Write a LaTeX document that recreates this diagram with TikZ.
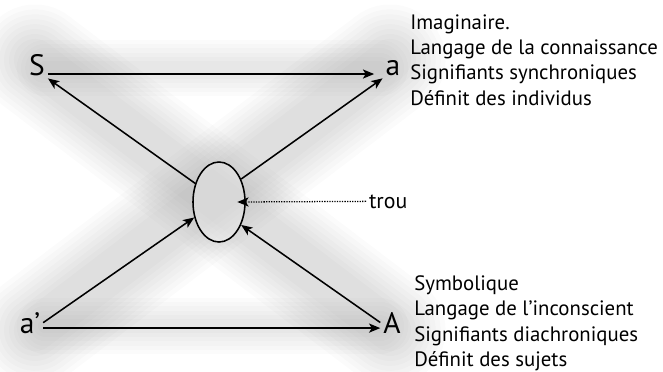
\documentclass[tikz,border=0pt]{standalone}
\usepackage{fontspec}
\setmainfont{PT Sans}
\usetikzlibrary{positioning, arrows.meta, shapes.geometric}

\begin{document}
\begin{tikzpicture}[x=0.025cm, y=-0.025cm,
    lettre/.style={font=\fontsize{21}{24}\selectfont, inner sep=2pt, anchor=base},
    txt/.style={font=\fontsize{14.8}{18.1}\selectfont, align=left, inner sep=0pt, anchor=north west},
    arr/.style={-{Stealth[length=8pt, width=6.5pt, inset=2pt]}, line width=1.1pt},
    brume/.style={line cap=round, black, opacity=0.014}]
  \useasboundingbox (0,0) rectangle (663,371);
  \foreach \w in {30,37,...,79} {
    \draw[brume, line width=\w pt] (35,60) -- (390,330);
    \draw[brume, line width=\w pt] (35,330) -- (390,60);
  }
  \foreach \w in {10,16,...,40} {
    \draw[brume, line width=\w pt] (45,68) -- (380,68);
    \draw[brume, line width=\w pt] (45,326) -- (380,326);
  }

  \node[lettre] (S) at (37,75) {S};
  \node[lettre] (a) at (393,75) {a};
  \node[lettre] (ap) at (30,333) {a’};
  \node[lettre] (A) at (392,333) {A};
  \node[draw, ellipse, line width=1.1pt, fill=white, fill opacity=0.3,
        minimum width=1.3cm, minimum height=2cm, inner sep=0pt] (trou) at (219,202) {};
  \node[font=\fontsize{15.5}{18.1}\selectfont, anchor=base west, inner sep=2pt] (troulbl) at (366,208) {trou};

  \node[txt] (imaginaire) at (410,14) {Imaginaire.\\Langage de la connaissance\\Signifiants synchroniques\\Définit des individus};
  \node[txt] (symbolique) at (414,275) {Symbolique\\Langage de l’inconscient\\Signifiants diachroniques\\Définit des sujets};

  \draw[arr] ([yshift=0.7pt]S.base east) -- ([yshift=0.7pt, xshift=-6pt]a.base west);
  \draw[arr] ([yshift=3.5pt]ap.base east) -- ([yshift=3.5pt]A.base west);
  \draw[arr] (trou.142) -- (S.south east);
  \draw[arr] (trou.46) -- (a.south west);
  \draw[arr] (ap.east) -- (trou.212);
  \draw[arr] (A.west) -- (trou.314);
  \draw[arr, line width=0.9pt, dash pattern=on 0.9pt off 0.9pt] (troulbl.west) -- ([xshift=-6pt]trou.east);
\end{tikzpicture}
\end{document}
